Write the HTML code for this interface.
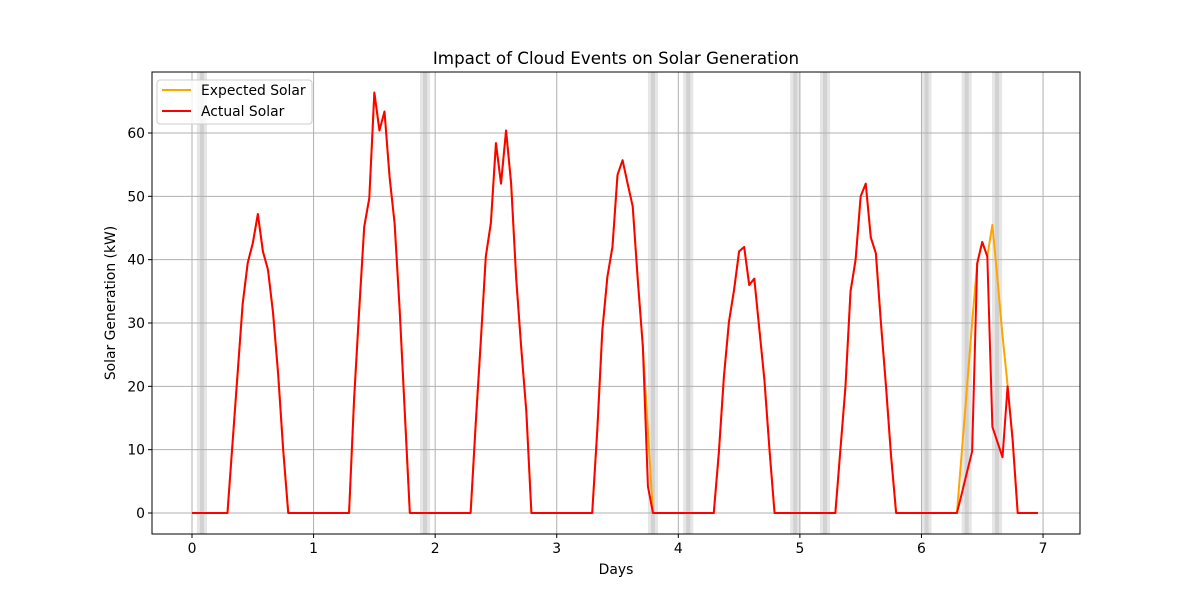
<!DOCTYPE html>
<html><head><meta charset="utf-8"><style>
body{margin:0;background:#fff}
svg{display:block;font-family:"DejaVu Sans","Liberation Sans",sans-serif}
</style></head><body>
<svg id="chart" width="1200" height="600" viewBox="0 0 1200 600" xmlns="http://www.w3.org/2000/svg">
<rect width="1200" height="600" fill="#fff"/>
<g id="bands"></g>
<g id="grid"></g>
<g id="lines"></g>
<rect x="152" y="72" width="928" height="462" fill="none" stroke="#000" stroke-width="1"/>
<g id="ticks"></g>
<text x="616" y="64" text-anchor="middle" font-size="16.7">Impact of Cloud Events on Solar Generation</text>
<text x="616" y="574" text-anchor="middle" font-size="13.9">Days</text>
<text transform="translate(115,303) rotate(-90)" text-anchor="middle" font-size="13.9">Solar Generation (kW)</text>
<g>
<rect x="157" y="80" width="155" height="44" rx="3" fill="#fff" fill-opacity="0.8" stroke="#ccc"/>
<line x1="162" y1="90" x2="191" y2="90" stroke="orange" stroke-width="2"/>
<text x="201" y="95" font-size="13.9">Expected Solar</text>
<line x1="162" y1="111" x2="191" y2="111" stroke="red" stroke-width="2"/>
<text x="201" y="116" font-size="13.9">Actual Solar</text>
</g>
</svg>
<script>
const xTicks=[0,1,2,3,4,5,6,7];
const yTicks=[0,10,20,30,40,50,60];
const cloudStarts=[0.04,1.875,3.75,4.04,4.92,5.165,6.0,6.33,6.58];
const cloudHours=2;
const actual=[
0,0,0,0,0,0,0,0,11,22,33,39.5,42.6,47.2,41.3,38.4,31.6,22,10,0,0,0,0,0,
0,0,0,0,0,0,0,0,18,32,45.2,49.7,66.4,60.4,63.4,53.1,45.7,32,16,0,0,0,0,0,
0,0,0,0,0,0,0,0,14,27,40.5,45.8,58.4,52,60.4,52,37,26,16,0,0,0,0,0,
0,0,0,0,0,0,0,0,13,28.8,37.3,42,53.4,55.7,52,48.4,36.8,26.3,4.2,0,0,0,0,0,
0,0,0,0,0,0,0,0,9.5,21.5,30.2,35.2,41.3,42,36,37,29,21,10,0,0,0,0,0,
0,0,0,0,0,0,0,0,10,20,35,40,50,52,43.5,41,30,20,9,0,0,0,0,0,
0,0,0,0,0,0,0,0,3.2,6.5,9.7,39.4,42.8,40.5,13.6,11.2,8.8,20,11.5,0,0,0,0,0];
const expected=[
0,0,0,0,0,0,0,0,11,22,33,39.5,42.6,47.2,41.3,38.4,31.6,22,10,0,0,0,0,0,
0,0,0,0,0,0,0,0,18,32,45.2,49.7,66.4,60.4,63.4,53.1,45.7,32,16,0,0,0,0,0,
0,0,0,0,0,0,0,0,14,27,40.5,45.8,58.4,52,60.4,52,37,26,16,0,0,0,0,0,
0,0,0,0,0,0,0,0,13,28.8,37.3,42,53.4,55.7,52,48.4,36.8,26.3,13,0,0,0,0,0,
0,0,0,0,0,0,0,0,9.5,21.5,30.2,35.2,41.3,42,36,37,29,21,10,0,0,0,0,0,
0,0,0,0,0,0,0,0,10,20,35,40,50,52,43.5,41,30,20,9,0,0,0,0,0,
0,0,0,0,0,0,0,0,10,20,30,39.4,42.8,40.5,45.5,37,28,20.2,11.5,0,0,0,0,0];

const NS="http://www.w3.org/2000/svg";
const L=152,R=1080,T=72,B=534;
const xMin=-0.329,xMax=7.304,yMin=-3.316,yMax=69.63;
const X=d=>L+(d-xMin)/(xMax-xMin)*(R-L);
const Y=v=>B-(v-yMin)/(yMax-yMin)*(B-T);
function mk(tag,attrs,parent){const e=document.createElementNS(NS,tag);for(const k in attrs)e.setAttribute(k,attrs[k]);parent.appendChild(e);return e;}
const bands=document.getElementById('bands'),grid=document.getElementById('grid'),lines=document.getElementById('lines'),ticks=document.getElementById('ticks');
cloudStarts.forEach(s=>{
  const w=cloudHours/24;
  const a=mk('rect',{x:X(s),y:T,width:X(s+w*0.7)-X(s),height:B-T,fill:'#808080','fill-opacity':0.2},bands);
  
  
  const b=mk('rect',{x:X(s+w*0.3),y:T,width:X(s+w)-X(s+w*0.3),height:B-T,fill:'#808080','fill-opacity':0.2},bands);
  
  
});
xTicks.forEach(t=>{
  const g=mk('line',{x1:X(t),x2:X(t),y1:T,y2:B,stroke:'#b0b0b0','stroke-width':1},grid);
  
  
  mk('line',{x1:X(t),x2:X(t),y1:B,y2:B+4,stroke:'#000'},ticks);
  const tx=mk('text',{x:X(t),y:B+19,'text-anchor':'middle','font-size':13.9},ticks);
  tx.textContent=t;
  
  
});
yTicks.forEach(t=>{
  const g=mk('line',{x1:L,x2:R,y1:Y(t),y2:Y(t),stroke:'#b0b0b0','stroke-width':1},grid);
  
  
  mk('line',{x1:L-4,x2:L,y1:Y(t),y2:Y(t),stroke:'#000'},ticks);
  const tx=mk('text',{x:L-7,y:Y(t)+5,'text-anchor':'end','font-size':13.9},ticks);
  tx.textContent=t;
  
  
});
function path(arr){return arr.map((v,i)=>(i?'L':'M')+X(i/24).toFixed(2)+','+Y(v).toFixed(2)).join('');}
const pe=mk('path',{d:path(expected),fill:'none',stroke:'orange','stroke-width':2,'stroke-linejoin':'round'},lines);


const pa=mk('path',{d:path(actual),fill:'none',stroke:'red','stroke-width':2,'stroke-linejoin':'round'},lines);


</script>
</body></html>
